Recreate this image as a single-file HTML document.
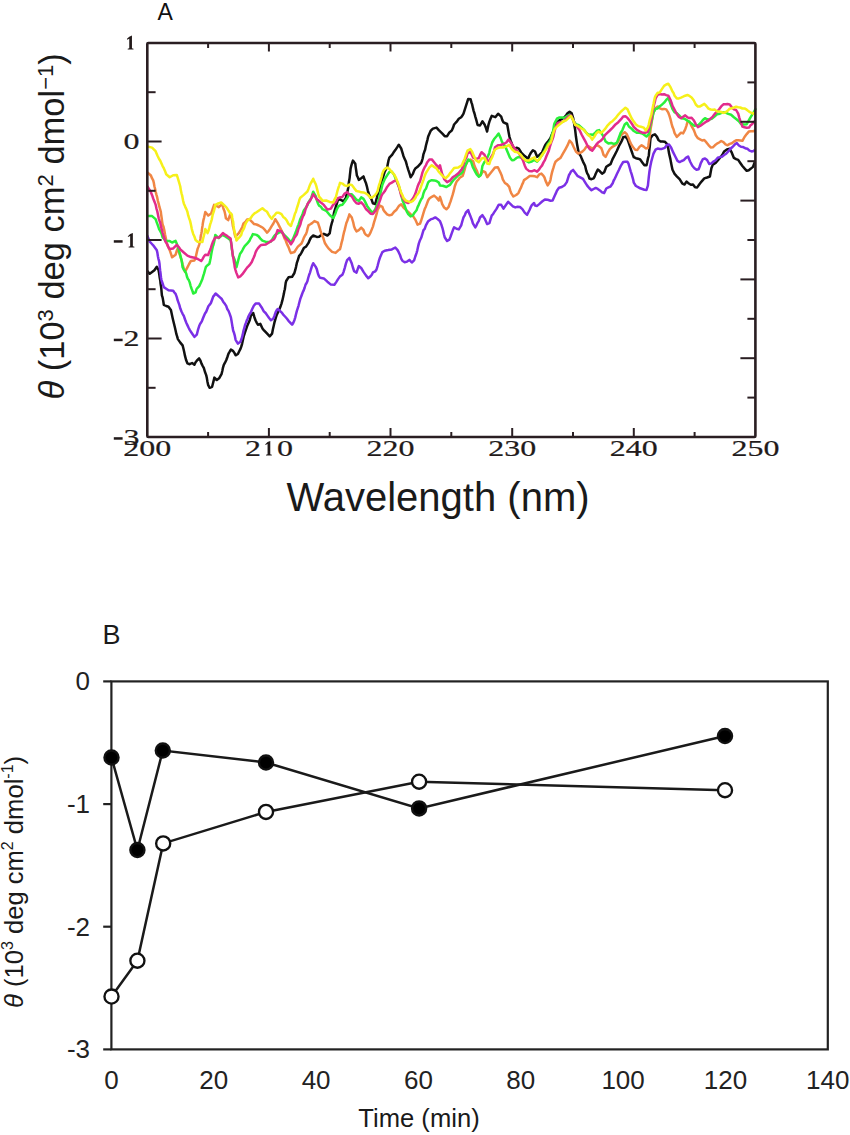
<!DOCTYPE html>
<html><head><meta charset="utf-8"><style>
html,body{margin:0;padding:0;background:#fff;width:850px;height:1135px;overflow:hidden}
svg{display:block}
</style></head><body>
<svg width="850" height="1135" viewBox="0 0 850 1135" font-family="Liberation Sans, sans-serif">
<rect width="850" height="1135" fill="#fff"/>
<path d="M147.4,271.2 L149.7,273.8 L152.1,272.0 L154.4,270.2 L156.8,266.8 L158.6,270.2 L159.2,273.9 L159.7,277.6 L160.3,280.9 L160.6,283.9 L161.0,286.2 L161.3,288.5 L161.6,292.2 L161.9,295.4 L162.4,296.8 L162.9,299.1 L163.4,302.0 L163.8,304.8 L166.2,306.0 L168.5,306.7 L170.9,310.0 L171.7,313.8 L172.5,317.5 L173.2,320.5 L174.0,323.7 L174.8,327.0 L175.6,330.5 L176.4,334.2 L177.2,336.6 L177.9,339.1 L180.3,342.6 L182.6,345.4 L183.4,348.5 L184.2,352.0 L185.0,355.9 L186.2,360.3 L187.4,363.4 L189.7,364.2 L192.1,363.0 L194.4,364.7 L195.6,362.2 L196.8,360.7 L199.1,358.4 L200.3,360.3 L201.5,363.6 L202.6,365.8 L203.8,367.8 L205.0,372.0 L206.2,375.1 L206.8,377.7 L207.4,381.4 L208.1,384.8 L209.7,387.8 L212.1,386.8 L212.8,384.0 L213.6,380.9 L214.4,377.6 L216.8,380.0 L219.1,378.3 L221.5,374.2 L222.3,371.0 L223.0,367.6 L223.8,364.8 L225.0,362.7 L226.2,360.2 L227.4,357.0 L228.5,353.7 L229.7,351.7 L230.9,349.5 L233.2,351.1 L234.4,352.9 L235.6,355.3 L237.9,354.0 L239.1,351.5 L240.3,349.2 L241.2,346.9 L242.1,343.8 L242.9,340.1 L243.8,336.0 L245.0,332.4 L246.2,328.9 L247.4,325.4 L248.5,323.0 L249.7,320.3 L250.9,315.6 L253.2,313.0 L254.4,317.2 L255.6,320.5 L256.8,322.8 L257.9,324.7 L260.3,323.9 L262.6,328.7 L263.8,330.1 L265.0,331.4 L267.4,333.9 L269.7,336.3 L272.1,333.6 L272.8,329.7 L273.6,326.3 L274.4,322.7 L275.6,318.3 L276.8,314.7 L277.9,312.4 L279.1,310.0 L280.3,307.1 L281.5,303.6 L282.3,300.7 L283.0,297.7 L283.8,294.1 L284.3,291.2 L284.8,289.5 L285.2,286.6 L285.7,282.9 L286.2,281.0 L288.5,277.3 L292.1,276.8 L294.4,273.0 L295.2,270.2 L296.0,267.1 L296.8,263.2 L297.9,259.8 L299.1,255.9 L300.3,254.6 L301.5,252.6 L303.8,248.1 L306.2,246.4 L308.5,242.9 L309.7,240.1 L310.9,237.6 L313.2,235.5 L316.8,236.9 L319.1,236.7 L321.5,234.8 L323.8,233.8 L327.4,235.5 L329.7,233.4 L330.3,229.7 L330.9,226.5 L331.7,223.5 L332.5,220.8 L333.2,217.3 L334.0,212.9 L334.8,210.1 L335.6,207.6 L336.8,203.7 L337.9,200.1 L340.0,199.4 L343.5,201.3 L345.9,198.0 L346.7,194.0 L347.5,191.3 L348.2,188.0 L348.6,184.5 L348.9,182.1 L349.2,180.5 L349.6,178.1 L349.9,175.1 L350.3,171.6 L350.6,168.6 L351.4,165.3 L352.2,162.6 L352.9,160.6 L354.1,162.1 L355.3,163.8 L355.7,167.1 L356.1,169.8 L356.5,172.7 L356.9,175.5 L357.9,177.5 L358.8,179.9 L361.2,178.2 L363.5,176.4 L364.7,180.1 L365.9,182.9 L366.8,186.1 L367.8,190.6 L368.9,194.0 L370.1,196.8 L371.5,199.4 L372.9,203.3 L375.3,204.1 L376.1,200.7 L376.9,197.6 L377.6,194.5 L378.8,191.0 L380.0,188.7 L380.8,184.9 L381.6,181.2 L382.4,179.1 L383.5,175.7 L384.7,171.6 L385.9,169.3 L387.1,167.4 L387.8,164.0 L388.6,160.1 L389.4,157.7 L391.8,155.2 L393.5,152.6 L395.3,150.1 L397.1,147.4 L398.8,144.7 L401.2,148.5 L402.4,152.3 L403.5,156.2 L404.7,158.9 L405.9,161.6 L407.1,166.0 L408.2,169.6 L409.4,173.2 L410.6,177.2 L412.9,173.9 L414.1,170.6 L415.3,168.5 L417.6,166.8 L421.2,162.9 L422.0,160.8 L422.7,158.2 L423.5,154.1 L424.3,151.8 L425.1,149.8 L425.9,145.7 L426.7,142.6 L427.5,139.6 L428.2,136.4 L429.4,133.7 L430.6,130.9 L432.9,128.6 L436.5,127.6 L438.8,130.2 L442.4,133.7 L444.7,136.2 L447.1,136.2 L448.2,134.4 L449.4,132.4 L451.8,130.6 L452.9,128.1 L454.1,124.5 L456.5,121.9 L458.8,118.7 L461.2,117.2 L462.4,115.6 L463.5,113.7 L464.7,109.9 L465.9,106.2 L467.1,102.3 L468.2,98.9 L470.6,99.2 L471.4,102.4 L472.2,104.7 L472.9,107.9 L473.7,111.1 L474.5,113.5 L475.3,116.6 L476.5,120.7 L477.6,125.0 L480.0,125.5 L482.4,121.3 L484.7,124.8 L485.9,127.8 L487.1,131.5 L487.8,128.0 L488.6,124.3 L489.4,121.6 L490.6,118.5 L491.8,115.8 L495.3,117.2 L498.1,113.7 L501.2,116.7 L502.4,120.3 L503.5,122.3 L507.1,124.0 L507.6,126.6 L508.2,130.0 L508.8,133.4 L509.4,136.5 L510.6,140.7 L511.8,143.6 L512.9,146.6 L514.1,149.3 L516.5,147.7 L518.8,148.7 L521.2,152.5 L524.7,156.1 L528.2,158.8 L529.4,155.5 L530.6,153.3 L532.9,150.2 L535.0,151.5 L536.1,154.3 L537.1,156.8 L539.2,155.2 L542.1,152.3 L543.5,149.0 L544.9,145.7 L546.3,143.5 L547.7,141.9 L549.1,140.1 L550.5,137.9 L551.5,135.4 L552.4,133.1 L553.4,131.4 L554.3,128.3 L555.2,125.3 L556.2,123.0 L559.0,120.6 L561.8,119.0 L564.6,117.1 L566.1,115.2 L567.5,113.3 L569.6,111.7 L571.7,113.3 L573.1,117.8 L573.6,120.8 L574.1,123.3 L574.5,126.2 L575.0,128.7 L575.5,132.8 L575.9,136.3 L576.4,139.8 L576.9,143.1 L577.4,146.0 L578.1,149.7 L578.8,153.1 L580.9,156.4 L581.9,159.1 L583.0,161.6 L585.1,165.8 L586.2,170.5 L587.2,173.4 L588.3,175.2 L589.4,178.5 L591.5,179.2 L593.6,178.4 L594.6,176.6 L595.7,173.8 L597.8,169.5 L599.9,171.3 L602.1,173.6 L604.2,172.2 L606.3,166.7 L608.4,165.4 L610.5,164.2 L612.7,158.8 L614.8,154.9 L616.9,150.8 L619.0,146.0 L621.1,142.2 L622.2,139.9 L623.2,137.2 L625.4,136.6 L627.5,139.3 L628.5,142.2 L629.6,145.3 L630.7,148.6 L631.7,151.5 L632.8,154.6 L633.8,157.2 L635.9,158.2 L638.1,158.7 L640.2,159.5 L642.3,162.4 L644.4,165.2 L646.5,165.3 L647.2,162.3 L647.9,158.7 L648.7,156.0 L648.9,154.6 L649.2,151.0 L649.5,148.4 L649.8,146.4 L650.1,142.4 L650.4,139.3 L650.6,138.0 L652.8,135.1 L654.9,134.3 L657.0,136.9 L658.4,139.9 L660.5,141.4 L662.6,141.4 L664.8,141.7 L666.9,143.8 L668.3,148.7 L669.0,153.1 L669.7,156.1 L670.4,159.1 L671.1,163.1 L671.8,166.5 L672.5,169.8 L674.6,173.9 L676.8,176.3 L679.6,179.2 L682.4,183.7 L684.5,184.5 L686.6,181.6 L688.8,183.5 L690.9,184.8 L693.0,184.5 L695.1,187.3 L697.2,187.4 L699.4,184.3 L701.5,181.6 L704.3,178.4 L707.1,177.5 L709.9,176.5 L710.7,172.0 L711.4,168.2 L712.8,164.6 L715.6,162.9 L718.4,159.7 L721.2,156.2 L722.7,154.2 L724.1,151.5 L726.9,149.5 L729.7,148.8 L731.8,152.7 L732.9,155.5 L733.9,157.9 L736.1,159.1 L738.2,159.9 L740.3,163.0 L742.4,166.0 L744.5,168.4 L746.7,170.8 L748.8,170.2 L750.9,168.6 L753.0,166.9 L754.8,161.8" fill="none" stroke="#111111" stroke-width="2.5" stroke-linejoin="round" stroke-linecap="round"/>
<path d="M147.4,235.9 L148.5,238.6 L149.7,241.6 L151.5,243.5 L153.2,245.3 L155.0,247.8 L156.8,250.3 L157.4,252.9 L157.9,256.2 L158.5,259.1 L159.1,261.1 L159.5,263.7 L159.8,267.3 L160.1,270.2 L160.5,272.9 L160.8,275.8 L161.1,278.0 L161.5,280.1 L162.6,283.5 L163.8,287.1 L166.2,288.7 L168.5,290.2 L173.2,290.7 L174.4,292.5 L175.6,293.9 L176.8,297.1 L177.6,300.2 L178.5,302.7 L179.4,305.1 L180.3,308.6 L181.5,311.5 L182.6,313.8 L183.8,315.9 L184.7,318.5 L185.6,321.1 L186.5,323.2 L187.4,325.1 L188.5,327.5 L189.7,329.9 L190.9,331.7 L192.6,334.2 L194.4,336.9 L196.8,334.6 L197.9,330.2 L199.1,326.3 L200.0,324.1 L200.9,322.7 L201.8,321.4 L202.6,319.3 L203.8,316.3 L205.0,313.5 L206.2,311.7 L207.4,308.7 L208.5,306.0 L209.7,304.7 L210.9,303.0 L212.1,299.7 L213.2,296.6 L214.4,295.1 L215.6,293.5 L217.9,295.5 L219.7,297.1 L221.5,298.7 L223.2,301.7 L225.0,304.1 L226.2,305.9 L227.4,309.3 L228.5,310.9 L229.7,313.9 L230.9,317.4 L231.5,320.7 L232.1,324.4 L232.6,327.6 L233.2,330.7 L234.0,332.8 L234.8,335.7 L235.6,339.8 L236.8,341.8 L237.9,343.6 L240.3,341.9 L241.5,339.1 L242.6,335.2 L243.4,331.2 L244.2,328.3 L245.0,325.2 L245.9,322.9 L246.8,320.4 L247.6,318.7 L248.5,316.3 L249.7,314.0 L250.9,312.3 L252.1,309.2 L253.8,305.7 L255.6,303.6 L259.1,303.6 L261.5,307.2 L262.6,309.2 L263.8,311.3 L265.6,313.0 L267.4,315.6 L269.1,318.0 L270.9,320.2 L273.2,318.7 L274.4,316.0 L275.6,312.4 L276.8,310.0 L277.9,309.0 L281.5,312.3 L283.2,314.6 L285.0,316.5 L286.8,318.5 L288.5,320.8 L292.1,324.7 L293.2,323.0 L294.4,320.2 L295.2,317.6 L296.0,314.2 L296.8,311.1 L297.6,308.7 L298.5,305.8 L299.4,302.3 L300.3,298.9 L301.2,296.5 L302.1,294.0 L302.9,291.9 L303.8,290.1 L304.7,287.5 L305.6,284.5 L306.5,283.2 L307.4,281.3 L308.2,278.0 L309.1,275.0 L310.0,272.6 L310.9,269.5 L312.1,265.7 L313.2,263.2 L315.6,266.6 L316.8,269.1 L317.9,273.5 L319.1,276.5 L320.3,277.8 L323.8,278.4 L327.4,281.7 L330.9,284.6 L334.4,284.8 L336.2,282.1 L337.9,279.4 L340.0,276.4 L342.4,274.8 L343.5,272.1 L344.7,268.1 L345.9,263.6 L347.1,260.1 L349.4,257.9 L350.6,260.7 L351.8,263.6 L352.9,267.5 L354.1,271.2 L356.5,272.6 L357.6,269.4 L358.8,266.1 L361.2,268.0 L363.5,271.9 L365.9,275.4 L368.2,278.3 L370.6,276.2 L371.8,274.8 L372.9,272.4 L375.3,271.3 L376.5,269.5 L377.6,265.8 L378.8,261.2 L380.0,257.5 L381.2,254.7 L382.4,252.1 L384.7,250.7 L388.2,250.1 L391.8,249.4 L395.3,247.5 L397.6,250.1 L398.8,252.4 L400.0,255.0 L401.2,258.6 L402.4,260.7 L404.7,262.2 L407.1,261.6 L409.4,259.9 L411.8,262.5 L414.1,260.4 L415.3,256.5 L416.5,253.1 L417.3,250.3 L418.0,247.0 L418.8,243.6 L420.0,240.2 L421.2,237.8 L422.4,233.8 L423.5,230.2 L424.7,228.9 L425.9,225.3 L428.2,221.2 L430.6,219.4 L432.9,218.6 L435.3,217.4 L437.6,219.0 L440.0,221.2 L441.2,224.2 L442.4,227.8 L443.1,230.5 L443.9,234.3 L444.7,237.3 L447.1,241.0 L449.4,239.6 L450.6,236.5 L451.8,233.1 L452.9,230.1 L454.1,227.3 L456.5,228.8 L458.8,229.4 L461.2,225.3 L462.4,221.0 L463.5,217.4 L464.7,215.3 L465.9,212.5 L468.2,210.2 L469.4,213.8 L470.6,216.6 L471.8,219.7 L472.9,223.4 L475.3,227.4 L476.5,225.3 L477.6,222.8 L478.8,220.8 L480.0,217.5 L482.4,215.2 L484.7,218.6 L485.9,221.3 L487.1,224.1 L489.4,223.2 L490.6,219.2 L491.8,215.4 L492.9,214.3 L494.1,212.4 L496.5,208.9 L498.8,204.7 L501.2,204.8 L503.5,208.6 L505.9,205.0 L508.2,201.8 L510.6,204.1 L512.9,206.3 L515.3,207.4 L517.6,206.8 L520.0,207.0 L522.4,209.1 L524.7,212.6 L527.1,214.8 L529.4,210.2 L530.6,207.4 L531.8,205.2 L534.1,203.0 L535.0,205.6 L537.1,205.9 L539.2,204.1 L542.1,201.5 L544.9,199.4 L547.7,199.8 L550.5,200.7 L552.6,200.6 L553.7,198.1 L554.8,195.5 L555.8,193.4 L556.9,190.8 L559.0,187.8 L561.8,187.0 L564.6,185.2 L566.8,182.1 L567.8,178.8 L568.9,175.3 L569.9,173.8 L571.0,171.4 L573.1,169.9 L575.2,172.8 L577.4,175.8 L580.2,177.3 L583.0,178.9 L585.1,182.3 L587.2,185.6 L589.4,188.3 L591.5,190.2 L593.6,189.0 L595.7,187.9 L597.8,188.9 L599.9,190.4 L602.1,192.4 L604.2,193.1 L606.3,188.5 L608.4,187.4 L610.5,186.5 L612.7,183.2 L613.7,180.5 L614.8,178.6 L615.8,176.4 L616.9,174.0 L619.0,169.8 L621.1,165.3 L623.2,162.0 L625.4,161.7 L627.5,161.8 L628.5,163.6 L629.6,167.5 L630.7,171.3 L631.7,174.3 L632.4,176.8 L633.1,179.3 L633.8,182.7 L635.9,186.0 L638.1,187.1 L640.2,188.3 L642.3,189.0 L644.4,189.7 L646.5,189.9 L647.9,185.6 L648.2,182.7 L648.5,179.8 L648.8,176.9 L649.1,174.3 L649.4,171.8 L649.9,168.6 L650.4,165.7 L650.9,163.5 L651.4,161.1 L652.4,157.5 L653.5,153.7 L655.6,149.7 L657.7,148.5 L659.8,148.9 L661.9,148.9 L664.8,147.8 L666.9,145.0 L669.0,144.6 L671.1,147.4 L673.2,152.4 L675.4,156.8 L677.5,160.9 L679.6,162.1 L681.7,161.0 L683.8,160.1 L685.9,157.9 L688.1,156.5 L690.2,161.7 L692.3,165.8 L694.4,168.2 L696.5,169.7 L698.6,169.2 L699.7,166.5 L700.8,163.1 L702.9,159.1 L705.0,158.4 L707.1,160.0 L709.2,164.0 L711.4,163.4 L713.5,161.5 L715.6,160.2 L717.7,157.8 L719.8,157.1 L721.9,156.8 L724.1,155.0 L726.2,153.7 L728.3,151.5 L730.4,148.8 L732.5,147.0 L734.7,144.6 L736.8,143.1 L738.9,145.5 L741.0,146.8 L743.1,147.1 L745.2,148.2 L747.4,148.8 L749.5,150.6 L751.6,151.4 L753.7,151.0 L754.8,149.8" fill="none" stroke="#7b30e6" stroke-width="2.5" stroke-linejoin="round" stroke-linecap="round"/>
<path d="M147.4,172.4 L150.9,175.5 L152.1,178.4 L153.2,180.4 L153.8,182.8 L154.4,186.2 L155.0,188.5 L155.6,191.5 L156.4,194.6 L157.2,197.4 L157.9,201.0 L158.7,203.9 L159.5,207.2 L160.3,209.8 L160.8,211.7 L161.2,214.8 L161.7,218.3 L162.2,222.1 L162.6,224.5 L163.4,226.4 L164.2,229.8 L165.0,234.3 L165.6,237.2 L166.2,240.0 L166.8,243.1 L167.4,245.4 L168.5,247.3 L169.7,250.2 L170.9,253.6 L172.1,257.3 L175.6,254.7 L176.8,250.7 L177.9,248.0 L178.7,251.2 L179.5,253.8 L180.3,256.2 L181.1,258.7 L181.9,261.4 L182.6,264.5 L183.8,268.6 L185.0,271.8 L186.2,269.6 L187.4,267.3 L189.1,264.0 L190.9,260.9 L194.4,260.4 L195.2,259.0 L196.0,255.9 L196.8,252.4 L197.6,248.9 L198.4,246.9 L199.2,244.6 L200.0,241.4 L200.4,238.9 L200.8,235.9 L201.3,233.8 L201.7,231.5 L202.1,228.3 L202.5,225.9 L202.9,222.9 L203.5,219.8 L204.1,217.6 L204.7,214.8 L205.3,211.9 L208.2,215.6 L211.2,213.4 L212.2,210.5 L213.1,207.6 L214.1,204.9 L216.5,206.0 L218.8,207.2 L222.4,203.8 L223.1,207.3 L223.8,209.6 L224.5,211.3 L225.2,214.2 L225.9,218.2 L228.2,220.1 L229.4,216.6 L230.6,213.4 L231.2,216.3 L231.8,218.9 L232.4,222.4 L232.9,226.1 L233.5,228.2 L234.1,231.0 L234.7,234.3 L235.3,236.8 L238.8,233.2 L240.0,231.1 L241.2,229.2 L242.4,226.7 L243.5,223.5 L245.3,222.1 L247.1,219.4 L249.4,219.3 L251.8,221.6 L254.1,224.1 L256.5,224.5 L258.8,225.5 L261.2,226.8 L263.1,228.0 L265.1,230.2 L267.1,232.6 L268.6,231.0 L270.2,228.6 L271.8,225.9 L272.9,224.3 L274.1,222.0 L275.3,219.2 L277.6,222.8 L279.0,225.6 L280.3,228.1 L281.5,230.5 L282.6,233.2 L283.8,236.6 L284.7,238.8 L285.6,240.1 L286.5,242.8 L287.4,244.9 L288.5,247.1 L289.7,250.4 L290.9,253.1 L294.4,252.0 L296.2,249.1 L297.9,246.6 L301.5,243.5 L302.6,241.0 L303.8,237.9 L305.0,235.5 L305.9,234.2 L306.8,231.9 L307.6,228.4 L308.5,225.4 L310.3,224.3 L312.1,223.1 L314.4,221.1 L317.9,222.7 L318.8,225.3 L319.7,228.0 L320.6,231.2 L321.5,233.8 L322.4,235.7 L323.2,237.7 L324.1,240.6 L325.0,243.3 L326.8,246.0 L328.5,248.4 L332.1,251.9 L335.6,252.9 L339.1,249.7 L340.0,249.1 L340.8,246.1 L341.6,242.6 L342.4,239.9 L343.1,236.3 L343.9,232.7 L344.7,229.9 L345.5,226.5 L346.3,223.3 L347.1,221.3 L348.2,218.3 L349.4,214.4 L351.8,217.6 L352.5,220.0 L353.3,222.7 L354.1,226.5 L355.3,229.4 L356.5,231.4 L358.8,230.1 L361.2,227.7 L363.5,230.0 L364.7,233.2 L365.9,234.7 L368.2,236.1 L369.4,234.7 L370.6,232.4 L371.8,229.4 L372.9,226.6 L374.1,222.2 L375.3,218.3 L376.1,215.6 L376.9,212.8 L377.6,210.0 L380.0,205.6 L382.4,206.8 L383.5,210.0 L384.7,211.7 L387.1,214.3 L389.4,215.3 L391.8,214.8 L394.1,211.8 L396.5,209.7 L398.8,206.1 L401.2,204.2 L403.5,207.6 L405.9,209.8 L408.2,212.0 L410.6,214.2 L412.9,215.8 L415.3,219.6 L416.5,222.2 L417.6,224.7 L420.0,223.7 L421.2,220.5 L422.4,216.6 L423.5,212.8 L424.7,209.1 L425.9,206.4 L427.1,203.3 L428.2,200.3 L429.4,198.5 L431.8,196.8 L434.1,195.6 L436.5,197.6 L438.8,200.5 L440.0,196.9 L441.1,200.2 L442.1,203.8 L444.2,207.6 L446.4,209.3 L448.5,207.2 L449.5,204.3 L450.6,201.4 L451.6,198.1 L452.7,194.7 L453.8,190.7 L454.8,186.3 L455.9,183.3 L456.9,181.1 L458.4,179.6 L459.8,177.7 L462.6,176.0 L463.6,173.2 L464.7,169.5 L465.6,165.4 L466.6,163.1 L467.5,161.3 L470.4,159.5 L473.2,161.4 L474.1,164.4 L475.1,167.3 L476.0,169.0 L477.1,171.3 L478.1,174.4 L480.2,175.7 L481.6,173.3 L483.1,171.2 L485.2,172.1 L487.3,177.2 L489.4,174.5 L492.2,171.0 L495.1,167.4 L497.9,167.3 L499.3,170.2 L500.7,173.1 L501.8,175.8 L502.8,179.3 L504.9,183.0 L507.1,184.4 L509.2,186.9 L510.2,190.4 L511.3,193.4 L513.4,196.5 L516.2,195.0 L518.4,193.1 L519.8,189.9 L521.2,187.2 L522.1,184.6 L523.1,182.7 L524.0,180.1 L526.8,178.2 L529.7,176.1 L532.5,175.9 L535.0,176.3 L537.1,177.2 L539.2,174.4 L541.4,173.6 L543.5,175.9 L544.5,177.5 L545.6,180.9 L547.7,185.4 L549.8,182.0 L550.5,179.8 L551.2,176.0 L551.9,172.9 L552.6,170.4 L553.4,167.9 L554.4,164.5 L555.5,161.8 L557.6,159.9 L560.4,158.0 L561.8,155.7 L563.2,153.2 L565.4,149.3 L567.5,145.4 L569.6,140.6 L571.7,142.8 L573.8,147.3 L575.9,151.5 L578.1,153.5 L580.2,152.8 L582.3,151.6 L584.4,149.6 L586.5,146.5 L588.6,146.2 L590.8,147.6 L592.9,148.5 L595.0,146.6 L597.1,145.1 L599.2,146.4 L601.4,148.3 L602.4,151.1 L603.5,154.8 L605.6,156.9 L607.7,152.7 L609.8,149.1 L611.9,147.2 L614.1,145.9 L616.2,144.4 L618.3,141.5 L619.4,138.5 L620.4,135.9 L622.5,133.8 L624.7,132.2 L626.8,134.2 L628.9,138.8 L629.9,141.6 L631.0,143.8 L633.1,147.3 L635.2,149.7 L637.4,149.9 L639.5,146.9 L641.6,145.2 L643.7,146.6 L645.8,148.4 L647.9,148.1 L648.3,145.9 L648.7,142.8 L649.1,140.1 L649.5,137.1 L649.8,134.8 L650.2,132.5 L650.6,129.0 L651.0,126.6 L651.4,124.7 L651.9,121.0 L652.4,117.7 L652.9,114.9 L653.5,112.5 L655.6,108.3 L657.7,106.5 L659.8,108.3 L661.9,109.2 L664.1,108.9 L666.2,109.4 L668.3,112.7 L669.4,115.6 L670.4,118.9 L671.5,123.4 L672.5,127.1 L673.6,129.6 L674.6,133.2 L676.8,136.9 L678.9,134.8 L681.0,132.7 L683.1,133.4 L685.2,129.4 L686.3,126.1 L687.4,122.3 L689.5,121.6 L691.6,126.1 L693.7,129.8 L694.8,132.6 L695.8,135.3 L697.9,138.2 L700.1,139.3 L702.2,140.5 L704.3,140.0 L706.4,142.4 L708.5,145.1 L710.7,147.4 L712.8,147.3 L714.9,145.3 L717.0,143.6 L719.1,142.5 L721.2,141.0 L723.4,142.1 L725.5,144.4 L727.6,145.3 L729.7,143.9 L731.8,143.3 L733.9,141.6 L736.1,140.3 L738.2,140.2 L740.3,140.4 L742.4,140.8 L744.5,137.0 L746.7,134.1 L748.8,131.6 L750.9,131.3 L753.0,131.3 L754.8,130.7" fill="none" stroke="#f08644" stroke-width="2.5" stroke-linejoin="round" stroke-linecap="round"/>
<path d="M147.4,215.9 L152.1,216.1 L155.6,219.1 L156.5,221.7 L157.4,224.1 L158.2,226.4 L159.1,229.1 L160.3,231.1 L161.5,233.5 L162.6,237.3 L166.2,241.1 L169.7,241.1 L172.1,242.5 L175.6,240.9 L176.8,243.8 L177.9,247.0 L179.1,251.1 L180.3,255.2 L180.9,257.9 L181.5,259.9 L182.1,263.4 L182.6,267.3 L183.8,269.7 L185.0,271.1 L186.2,273.5 L187.1,277.1 L187.9,278.9 L188.8,280.1 L189.7,282.4 L190.6,285.8 L191.5,288.5 L192.4,290.9 L193.2,293.5 L195.6,292.4 L196.6,289.0 L197.6,287.9 L199.2,286.1 L200.8,282.7 L202.4,279.0 L203.2,276.1 L204.1,273.4 L205.0,270.0 L205.9,266.9 L207.6,265.2 L209.4,263.7 L210.0,261.1 L210.6,258.2 L211.2,254.5 L211.8,251.2 L212.4,248.4 L212.9,246.3 L213.5,244.8 L214.1,242.3 L214.7,238.7 L215.3,235.0 L218.8,238.1 L222.4,234.9 L224.7,236.0 L227.1,237.6 L230.6,240.2 L231.0,242.2 L231.4,245.1 L231.8,249.0 L232.2,250.9 L232.5,253.3 L232.9,256.1 L233.8,257.7 L234.7,259.9 L235.6,263.9 L236.5,267.3 L237.4,263.7 L238.2,260.4 L239.1,257.1 L240.0,254.0 L241.2,252.3 L242.4,250.3 L243.5,248.1 L244.7,246.1 L247.1,243.7 L249.4,240.9 L250.6,238.3 L251.8,236.4 L252.9,234.1 L256.5,234.9 L258.4,236.1 L260.4,238.6 L262.4,240.6 L265.9,241.9 L270.6,241.8 L272.2,239.4 L273.7,236.8 L275.3,234.8 L278.4,232.9 L281.5,231.5 L283.2,233.8 L285.0,235.7 L288.5,239.2 L290.9,242.3 L292.1,240.3 L293.2,238.5 L294.1,236.2 L295.0,234.0 L295.9,231.8 L296.8,229.2 L297.6,226.8 L298.5,224.6 L299.4,221.8 L300.3,219.0 L301.5,216.7 L302.6,214.0 L303.8,210.4 L305.6,207.9 L307.4,205.2 L308.5,202.3 L309.7,200.4 L310.9,198.9 L312.1,195.1 L313.2,191.7 L314.4,193.8 L315.6,195.8 L316.5,199.0 L317.4,201.8 L318.2,204.0 L319.1,205.6 L320.9,206.8 L322.6,209.2 L326.2,210.8 L329.7,215.0 L333.2,218.2 L334.4,215.8 L335.6,212.9 L336.8,209.4 L338.4,206.5 L340.0,205.3 L342.4,204.7 L344.7,201.8 L347.1,198.1 L349.4,194.2 L351.8,194.2 L354.1,196.9 L356.5,199.7 L358.8,201.0 L361.2,197.4 L363.5,198.9 L364.7,200.9 L365.9,203.4 L367.1,205.9 L368.2,207.4 L370.6,210.7 L372.9,212.9 L375.3,209.2 L376.5,206.0 L377.6,203.1 L378.4,200.7 L379.2,198.5 L380.0,194.8 L380.8,191.7 L381.6,188.3 L382.4,184.7 L383.5,182.0 L384.7,179.2 L387.1,175.4 L389.4,172.0 L391.8,171.6 L394.1,174.9 L395.3,177.9 L396.5,181.0 L397.6,183.5 L398.8,186.0 L399.6,189.0 L400.4,191.3 L401.2,194.1 L402.0,198.2 L402.7,200.9 L403.5,202.7 L404.7,205.8 L405.9,209.1 L407.1,212.2 L408.2,214.0 L410.6,216.4 L412.9,215.3 L414.1,213.2 L415.3,211.7 L416.5,210.3 L417.6,207.1 L418.8,204.6 L420.0,201.8 L421.2,199.3 L422.4,197.6 L423.5,193.2 L424.7,190.2 L425.9,188.8 L427.1,185.4 L428.2,182.4 L429.4,181.2 L431.8,180.2 L434.1,180.4 L436.5,181.0 L438.8,182.6 L440.0,185.5 L442.8,185.7 L446.4,187.0 L449.9,184.9 L452.0,182.0 L454.1,179.3 L456.2,177.3 L458.4,175.2 L460.5,174.1 L462.6,171.9 L463.5,168.7 L464.5,166.8 L465.4,165.4 L466.8,162.7 L468.2,159.5 L471.1,161.7 L472.0,164.7 L472.9,167.4 L473.9,169.1 L475.3,171.8 L476.7,174.4 L478.8,176.8 L480.9,174.8 L481.4,172.1 L481.9,169.2 L482.4,166.0 L484.5,161.9 L486.6,159.2 L487.6,157.0 L488.7,154.6 L489.4,152.3 L490.1,149.1 L491.2,145.9 L492.2,142.5 L494.4,138.7 L496.5,136.3 L498.6,133.6 L500.7,138.1 L501.8,141.4 L502.8,143.2 L504.2,145.1 L505.7,147.4 L507.8,152.5 L509.9,157.6 L512.0,160.3 L514.1,159.9 L516.2,158.2 L518.4,157.0 L520.5,157.3 L523.3,158.5 L526.1,161.0 L528.9,162.4 L531.8,161.5 L534.6,159.7 L535.0,160.5 L537.1,161.6 L539.2,159.2 L540.6,156.7 L542.1,155.1 L543.5,152.7 L544.9,150.0 L546.3,147.2 L547.7,144.2 L549.1,142.4 L550.5,140.2 L551.6,136.2 L552.6,132.8 L553.2,130.7 L553.7,127.2 L554.2,124.3 L554.8,122.8 L556.9,118.7 L559.0,117.6 L561.8,117.5 L564.6,117.7 L567.5,115.9 L569.6,114.9 L571.7,117.1 L573.8,121.2 L575.9,124.3 L578.8,125.2 L581.6,127.6 L584.4,130.2 L586.5,132.9 L588.6,135.0 L590.8,134.4 L592.9,135.0 L595.0,133.0 L597.1,130.7 L599.2,130.1 L601.4,133.2 L603.5,136.6 L605.6,141.5 L608.4,143.4 L611.2,142.9 L614.1,144.1 L616.9,142.7 L618.3,139.1 L619.7,135.5 L620.7,132.8 L621.6,131.5 L622.5,129.8 L624.7,124.5 L626.8,122.7 L628.9,126.5 L631.0,128.2 L633.8,131.0 L636.7,132.8 L639.5,132.7 L642.3,133.5 L644.4,134.9 L646.5,136.5 L648.7,134.3 L649.2,131.5 L649.7,128.5 L650.3,125.3 L650.8,123.6 L651.4,121.8 L652.1,118.9 L652.8,115.7 L653.5,112.4 L655.6,108.8 L657.7,108.5 L659.8,106.2 L661.9,104.7 L664.1,102.7 L666.2,99.9 L668.3,98.0 L669.4,100.7 L670.4,103.5 L671.5,106.4 L672.5,109.0 L674.6,112.3 L676.8,113.1 L678.9,115.1 L681.7,118.2 L684.5,118.7 L687.4,120.6 L690.2,122.6 L692.3,124.3 L694.4,125.8 L696.5,125.2 L698.6,124.9 L700.8,122.7 L702.9,120.0 L705.0,118.2 L707.1,119.3 L709.2,119.6 L711.4,118.9 L714.2,116.7 L717.0,114.3 L719.8,113.7 L722.7,112.3 L725.5,112.6 L728.3,113.9 L731.1,114.7 L733.9,117.2 L736.8,119.5 L738.9,121.3 L741.0,124.0 L743.8,124.5 L746.7,124.2 L748.4,121.2 L750.2,117.8 L751.9,115.1 L753.7,112.6 L755.4,109.1" fill="none" stroke="#2af03a" stroke-width="2.5" stroke-linejoin="round" stroke-linecap="round"/>
<path d="M147.4,186.5 L149.1,189.2 L150.9,192.2 L152.1,195.2 L153.2,198.5 L154.4,201.5 L155.6,204.6 L156.4,208.3 L157.2,211.0 L157.9,214.3 L158.7,218.3 L159.5,220.7 L160.3,222.9 L161.1,226.9 L161.9,230.1 L162.6,233.0 L163.5,235.9 L164.4,238.5 L165.3,241.3 L166.2,242.7 L167.4,244.7 L168.5,247.4 L169.7,249.0 L173.2,248.4 L176.8,244.9 L178.5,246.8 L180.3,249.3 L183.8,252.5 L187.4,255.6 L190.9,257.1 L194.4,257.8 L197.8,259.0 L201.2,261.0 L202.5,259.1 L203.9,256.5 L205.3,254.8 L208.2,255.1 L209.1,252.2 L210.0,250.3 L210.9,247.9 L211.8,244.9 L212.9,241.9 L214.1,239.6 L215.3,237.4 L218.8,237.6 L220.9,235.3 L222.9,233.1 L225.0,234.7 L227.1,235.9 L230.6,238.4 L230.9,240.9 L231.3,243.3 L231.6,245.5 L231.9,248.2 L232.3,251.2 L232.6,254.1 L232.9,256.1 L233.4,258.5 L233.9,261.7 L234.4,264.6 L234.8,267.5 L235.3,269.4 L236.3,272.6 L237.3,275.1 L238.2,277.4 L240.3,276.3 L242.4,274.2 L244.7,271.0 L247.1,267.6 L248.6,266.1 L250.2,264.3 L251.8,262.0 L252.7,259.7 L253.6,257.8 L254.6,255.5 L255.5,252.5 L256.5,250.4 L258.0,248.1 L259.6,246.3 L261.2,244.9 L265.9,244.4 L268.2,243.0 L270.6,241.4 L274.1,239.1 L275.3,236.9 L276.5,233.4 L277.6,230.1 L281.5,231.5 L283.2,234.0 L285.0,237.4 L288.5,241.0 L289.7,242.2 L290.9,244.3 L293.2,240.9 L294.4,237.9 L295.6,236.2 L296.8,234.6 L297.6,231.9 L298.5,228.7 L299.4,226.8 L300.3,224.6 L301.2,221.0 L302.1,218.6 L302.9,216.3 L303.8,215.0 L304.7,212.5 L305.6,209.0 L306.5,206.9 L307.4,204.3 L308.5,202.7 L309.7,201.4 L310.9,199.0 L312.1,196.8 L313.2,194.2 L315.0,196.6 L316.8,199.3 L318.5,200.4 L320.3,202.0 L323.8,204.9 L327.4,209.6 L330.9,208.6 L332.6,205.6 L334.4,203.6 L336.2,201.8 L337.9,198.2 L340.0,197.3 L342.4,196.9 L344.7,193.5 L347.1,192.2 L349.4,194.6 L351.8,196.5 L354.1,200.5 L356.5,203.3 L358.8,203.7 L361.2,202.3 L363.5,204.8 L365.9,209.0 L368.2,211.2 L370.6,213.7 L372.9,214.0 L375.3,210.9 L376.5,208.8 L377.6,206.3 L378.8,203.7 L380.0,200.3 L381.2,196.6 L382.4,194.0 L383.5,192.8 L384.7,191.3 L387.1,186.9 L389.4,183.9 L391.8,182.6 L394.1,181.1 L396.5,180.1 L397.6,183.6 L398.8,186.7 L399.6,189.3 L400.4,192.4 L401.2,195.7 L402.4,197.4 L403.5,199.2 L405.9,202.1 L408.2,203.1 L410.6,201.3 L412.9,198.5 L414.1,196.4 L415.3,193.8 L416.5,190.1 L417.6,186.5 L418.8,183.6 L420.0,181.3 L421.2,177.2 L422.4,172.6 L423.5,169.8 L424.7,167.2 L425.9,165.3 L427.1,162.5 L429.4,159.5 L431.8,159.4 L434.1,162.3 L436.5,165.2 L437.6,166.4 L438.8,168.4 L440.0,165.3 L440.7,168.2 L441.4,171.0 L442.1,173.8 L443.2,176.2 L444.2,179.2 L447.1,182.2 L449.9,180.7 L452.7,177.3 L455.5,175.5 L458.4,173.3 L461.9,169.1 L462.8,166.6 L463.8,163.4 L464.7,160.2 L465.6,158.9 L466.6,157.0 L467.5,153.4 L470.4,151.9 L471.8,154.8 L473.2,157.7 L476.0,158.9 L478.8,158.1 L480.2,154.7 L481.6,152.2 L484.5,154.7 L485.4,156.7 L486.4,158.4 L487.3,160.9 L489.4,160.5 L490.8,157.9 L492.2,155.4 L493.2,153.5 L494.1,150.8 L495.1,147.2 L497.9,145.2 L500.7,145.0 L503.5,144.0 L506.4,142.5 L508.5,139.6 L510.6,142.3 L512.7,145.5 L514.8,148.8 L516.9,150.7 L519.1,153.6 L521.2,156.9 L522.2,158.8 L523.3,161.3 L524.7,165.4 L526.1,168.6 L528.9,170.9 L531.8,171.3 L534.6,170.2 L535.0,170.5 L537.1,171.7 L539.2,169.4 L540.6,167.2 L542.1,165.4 L543.5,162.4 L544.9,160.1 L546.3,156.5 L547.7,153.3 L548.8,150.8 L549.8,146.9 L551.2,142.6 L552.3,139.7 L553.4,136.6 L554.1,133.1 L554.8,130.5 L555.5,127.8 L557.6,123.0 L560.4,122.3 L563.2,121.6 L566.1,118.8 L568.9,116.1 L571.0,115.5 L573.1,120.0 L575.2,124.3 L577.4,127.2 L579.5,129.9 L581.6,134.5 L583.7,138.4 L585.8,142.2 L587.9,146.5 L590.1,149.5 L592.2,150.7 L594.3,147.9 L596.4,144.3 L598.5,142.2 L600.7,140.8 L602.8,138.7 L604.9,135.1 L607.0,133.1 L609.8,130.5 L612.7,127.6 L615.5,124.4 L618.3,122.2 L621.1,119.2 L623.2,116.5 L625.4,116.2 L627.5,117.9 L629.6,120.6 L631.7,123.4 L633.8,127.0 L636.7,129.7 L639.5,131.4 L642.3,132.7 L645.1,132.8 L647.9,131.9 L648.6,129.6 L649.3,126.6 L650.0,124.0 L650.7,122.0 L651.4,119.3 L651.9,115.7 L652.4,112.5 L652.9,110.2 L653.5,106.9 L654.2,104.2 L654.9,101.7 L655.6,98.3 L657.7,94.7 L659.8,94.1 L661.9,94.5 L664.1,94.2 L666.2,95.1 L668.3,95.7 L669.4,97.7 L670.4,99.8 L671.5,102.6 L672.5,105.8 L674.6,109.8 L676.8,114.1 L678.9,117.0 L681.0,118.3 L683.1,116.8 L685.2,115.4 L687.4,117.3 L689.5,118.1 L691.6,117.7 L693.7,120.2 L695.8,124.1 L697.9,127.1 L700.1,126.0 L702.2,124.4 L704.3,123.0 L706.4,121.5 L708.5,120.5 L710.7,118.4 L712.8,116.6 L714.9,113.7 L717.0,111.7 L719.1,109.3 L721.2,106.4 L723.4,104.3 L725.5,104.2 L727.6,104.1 L729.7,104.4 L731.8,107.3 L733.9,109.4 L736.1,110.0 L738.2,113.7 L739.2,117.3 L740.3,120.9 L741.4,123.5 L742.4,126.5 L744.5,127.3 L746.7,127.8 L749.2,127.4 L750.6,125.2 L752.0,124.2 L754.8,121.1" fill="none" stroke="#e22c8c" stroke-width="2.5" stroke-linejoin="round" stroke-linecap="round"/>
<path d="M147.4,146.5 L152.1,147.6 L153.8,149.3 L155.6,151.2 L157.4,155.5 L159.1,159.0 L160.3,160.8 L161.5,163.6 L162.6,166.1 L163.8,168.2 L165.0,170.9 L166.2,174.2 L169.7,177.3 L173.2,175.2 L176.8,174.9 L177.9,178.3 L179.1,182.4 L179.7,184.5 L180.3,186.7 L180.9,190.6 L181.5,193.3 L182.1,195.3 L182.6,198.0 L183.2,201.0 L183.8,203.4 L184.7,205.4 L185.6,207.7 L186.5,209.4 L187.4,211.7 L188.2,215.4 L189.1,218.2 L190.0,220.6 L190.9,224.4 L191.7,228.6 L192.5,231.7 L193.2,233.9 L194.4,236.5 L195.6,240.1 L197.6,241.7 L202.4,241.9 L203.1,238.6 L203.8,236.0 L204.6,232.8 L205.3,229.1 L207.6,233.1 L208.5,230.9 L209.3,227.9 L210.1,224.6 L210.9,222.3 L211.8,219.3 L212.5,215.5 L213.2,213.1 L213.9,211.3 L214.6,208.3 L215.3,204.9 L218.2,203.5 L221.2,202.5 L224.7,205.6 L226.5,207.5 L228.2,210.1 L230.0,213.0 L231.8,214.5 L232.2,217.5 L232.7,220.0 L233.2,222.1 L233.6,226.0 L234.1,229.8 L234.7,232.4 L235.3,234.2 L235.9,237.2 L236.5,240.6 L238.0,238.5 L239.6,237.1 L241.2,235.0 L242.1,231.7 L243.1,230.0 L244.0,228.3 L244.9,225.5 L245.9,223.1 L247.5,220.6 L249.0,219.4 L250.6,218.2 L252.5,215.4 L254.5,213.4 L256.5,212.2 L259.4,210.2 L262.4,208.3 L264.7,210.3 L267.1,211.8 L268.6,214.6 L270.2,217.0 L271.8,218.8 L273.3,216.4 L274.9,214.8 L276.5,212.8 L279.0,212.8 L281.5,214.2 L283.2,216.9 L285.0,218.2 L286.8,220.6 L288.5,223.8 L290.9,226.0 L292.1,222.3 L293.2,219.8 L294.1,216.6 L295.0,213.5 L295.9,211.8 L296.8,208.4 L297.6,206.0 L298.5,203.2 L299.4,199.8 L300.3,197.8 L303.8,194.9 L307.4,191.5 L308.5,188.9 L309.7,185.6 L310.9,183.0 L312.1,181.0 L313.2,178.7 L314.4,181.7 L315.6,183.8 L316.5,186.7 L317.4,190.4 L318.2,193.5 L319.1,196.6 L320.9,198.6 L322.6,200.7 L326.2,200.5 L329.7,201.9 L333.2,202.5 L334.1,200.4 L335.0,198.7 L335.9,197.0 L336.8,193.5 L337.6,190.3 L338.4,187.8 L339.2,185.6 L340.0,182.9 L342.4,183.6 L344.7,185.4 L347.1,186.1 L349.4,184.6 L351.8,185.0 L354.1,188.1 L356.5,191.1 L358.8,191.4 L361.2,192.3 L363.5,192.4 L365.9,193.4 L368.2,195.1 L370.6,197.9 L372.9,197.0 L375.3,194.8 L376.5,193.1 L377.6,191.1 L378.4,187.6 L379.2,184.7 L380.0,182.4 L380.8,179.5 L381.6,176.8 L382.4,173.4 L383.5,170.8 L384.7,169.1 L387.1,167.5 L389.4,168.9 L391.8,172.0 L394.1,174.3 L395.3,176.5 L396.5,179.1 L397.6,182.1 L398.8,185.0 L400.0,189.2 L401.2,192.8 L402.4,195.0 L403.5,197.9 L405.9,200.6 L408.2,201.4 L410.6,202.1 L412.9,200.8 L415.3,198.1 L416.5,195.5 L417.6,194.3 L418.8,192.6 L420.0,189.7 L421.2,186.1 L422.4,182.9 L423.5,179.9 L424.7,176.0 L425.9,173.0 L427.1,171.1 L429.4,167.4 L431.8,165.3 L434.1,166.9 L436.5,168.4 L438.8,171.9 L440.0,173.1 L442.8,176.2 L445.6,178.3 L448.5,175.5 L449.9,173.4 L451.3,171.7 L454.1,168.0 L458.4,167.4 L461.9,165.2 L462.8,162.9 L463.8,160.9 L464.7,158.6 L465.6,156.0 L466.6,153.1 L467.5,150.7 L470.4,149.1 L471.8,151.1 L473.2,154.3 L474.1,156.4 L475.1,158.3 L476.0,160.2 L478.8,162.3 L480.2,160.5 L481.6,158.5 L484.5,157.7 L485.9,160.6 L487.3,163.7 L489.4,163.9 L490.4,160.5 L491.3,158.8 L492.2,157.2 L493.2,154.3 L494.1,151.0 L495.1,149.5 L497.9,148.0 L500.7,147.2 L503.5,147.4 L506.4,146.3 L509.2,145.0 L512.0,149.2 L514.8,151.7 L517.7,152.4 L520.5,154.6 L523.3,158.3 L526.1,160.4 L528.9,160.5 L531.8,158.6 L534.6,157.3 L535.0,158.6 L537.1,160.9 L539.2,159.4 L540.6,157.5 L542.1,154.7 L543.5,152.9 L544.9,151.2 L546.3,148.9 L547.7,146.1 L549.1,144.0 L550.5,142.8 L551.6,139.6 L552.6,135.2 L553.7,131.8 L554.8,128.9 L557.6,126.0 L560.4,123.8 L563.2,121.5 L566.1,120.3 L568.9,117.7 L571.0,116.0 L573.1,120.2 L575.2,124.9 L577.4,125.7 L579.5,127.0 L581.6,128.5 L583.7,129.7 L585.8,132.2 L587.9,134.9 L590.1,136.4 L592.2,139.6 L594.3,136.8 L596.4,133.2 L598.5,131.5 L600.7,132.9 L602.8,131.5 L604.9,129.2 L607.0,126.2 L609.8,123.1 L612.7,120.9 L615.5,118.2 L618.3,114.6 L621.1,111.5 L623.2,109.6 L625.4,107.7 L627.5,109.3 L629.6,114.0 L631.7,118.5 L633.8,121.6 L635.9,124.5 L638.1,126.1 L640.9,126.7 L643.7,127.6 L645.8,130.5 L647.9,127.3 L648.8,124.3 L649.6,120.7 L650.5,117.5 L651.4,114.5 L651.9,111.7 L652.4,109.3 L652.9,106.7 L653.5,104.1 L654.2,100.5 L654.9,97.3 L655.6,95.7 L657.7,92.7 L659.8,92.4 L661.9,89.1 L664.1,85.9 L666.2,84.5 L668.3,83.8 L670.4,86.9 L672.5,91.6 L673.6,93.1 L674.6,95.8 L676.8,98.4 L678.9,98.4 L681.0,97.6 L683.1,96.7 L685.2,95.7 L687.4,95.0 L689.5,95.9 L691.6,97.4 L693.7,100.3 L695.8,104.5 L697.9,106.6 L700.1,106.4 L702.2,105.1 L704.3,103.9 L706.4,106.0 L708.5,108.6 L710.7,109.5 L712.8,109.7 L714.9,109.6 L717.0,111.4 L719.1,111.6 L721.2,112.0 L723.4,112.9 L725.5,112.2 L727.6,110.8 L729.7,108.7 L731.8,108.2 L733.9,107.5 L736.1,106.7 L738.2,107.3 L740.3,107.5 L742.4,108.5 L744.5,108.4 L746.7,109.7 L748.8,111.4 L750.9,112.7 L753.0,113.7 L754.8,112.4" fill="none" stroke="#f6f01a" stroke-width="2.5" stroke-linejoin="round" stroke-linecap="round"/>
<rect x="147.3" y="43.0" width="608.1" height="394.0" fill="none" stroke="#2a1e22" stroke-width="2.6" rx="1"/>
<line x1="147.3" y1="92.2" x2="155.60000000000002" y2="92.2" stroke="#2a1e22" stroke-width="2"/>
<line x1="147.3" y1="141.5" x2="161.60000000000002" y2="141.5" stroke="#2a1e22" stroke-width="2"/>
<line x1="147.3" y1="190.8" x2="155.60000000000002" y2="190.8" stroke="#2a1e22" stroke-width="2"/>
<line x1="147.3" y1="240.0" x2="161.60000000000002" y2="240.0" stroke="#2a1e22" stroke-width="2"/>
<line x1="147.3" y1="289.2" x2="155.60000000000002" y2="289.2" stroke="#2a1e22" stroke-width="2"/>
<line x1="147.3" y1="338.5" x2="161.60000000000002" y2="338.5" stroke="#2a1e22" stroke-width="2"/>
<line x1="147.3" y1="387.8" x2="155.60000000000002" y2="387.8" stroke="#2a1e22" stroke-width="2"/>
<line x1="755.4" y1="82.4" x2="747.4" y2="82.4" stroke="#2a1e22" stroke-width="2"/>
<line x1="755.4" y1="121.8" x2="740.4" y2="121.8" stroke="#2a1e22" stroke-width="2"/>
<line x1="755.4" y1="161.2" x2="747.4" y2="161.2" stroke="#2a1e22" stroke-width="2"/>
<line x1="755.4" y1="200.6" x2="740.4" y2="200.6" stroke="#2a1e22" stroke-width="2"/>
<line x1="755.4" y1="240.0" x2="747.4" y2="240.0" stroke="#2a1e22" stroke-width="2"/>
<line x1="755.4" y1="279.4" x2="740.4" y2="279.4" stroke="#2a1e22" stroke-width="2"/>
<line x1="755.4" y1="318.8" x2="747.4" y2="318.8" stroke="#2a1e22" stroke-width="2"/>
<line x1="755.4" y1="358.2" x2="740.4" y2="358.2" stroke="#2a1e22" stroke-width="2"/>
<line x1="755.4" y1="397.6" x2="747.4" y2="397.6" stroke="#2a1e22" stroke-width="2"/>
<line x1="208.1" y1="437.0" x2="208.1" y2="432.0" stroke="#2a1e22" stroke-width="2"/>
<line x1="268.9" y1="437.0" x2="268.9" y2="428.0" stroke="#2a1e22" stroke-width="2"/>
<line x1="329.7" y1="437.0" x2="329.7" y2="432.0" stroke="#2a1e22" stroke-width="2"/>
<line x1="390.5" y1="437.0" x2="390.5" y2="428.0" stroke="#2a1e22" stroke-width="2"/>
<line x1="451.3" y1="437.0" x2="451.3" y2="432.0" stroke="#2a1e22" stroke-width="2"/>
<line x1="512.2" y1="437.0" x2="512.2" y2="428.0" stroke="#2a1e22" stroke-width="2"/>
<line x1="573.0" y1="437.0" x2="573.0" y2="432.0" stroke="#2a1e22" stroke-width="2"/>
<line x1="633.8" y1="437.0" x2="633.8" y2="428.0" stroke="#2a1e22" stroke-width="2"/>
<line x1="694.6" y1="437.0" x2="694.6" y2="432.0" stroke="#2a1e22" stroke-width="2"/>
<line x1="208.1" y1="43.0" x2="208.1" y2="48.0" stroke="#2a1e22" stroke-width="2"/>
<line x1="268.9" y1="43.0" x2="268.9" y2="51.5" stroke="#2a1e22" stroke-width="2"/>
<line x1="329.7" y1="43.0" x2="329.7" y2="48.0" stroke="#2a1e22" stroke-width="2"/>
<line x1="390.5" y1="43.0" x2="390.5" y2="51.5" stroke="#2a1e22" stroke-width="2"/>
<line x1="451.3" y1="43.0" x2="451.3" y2="48.0" stroke="#2a1e22" stroke-width="2"/>
<line x1="512.2" y1="43.0" x2="512.2" y2="51.5" stroke="#2a1e22" stroke-width="2"/>
<line x1="573.0" y1="43.0" x2="573.0" y2="48.0" stroke="#2a1e22" stroke-width="2"/>
<line x1="633.8" y1="43.0" x2="633.8" y2="51.5" stroke="#2a1e22" stroke-width="2"/>
<line x1="694.6" y1="43.0" x2="694.6" y2="48.0" stroke="#2a1e22" stroke-width="2"/>
<text transform="translate(131.51,149.0) scale(1.42,1)" text-anchor="middle" font-family="Liberation Serif" font-size="22.5" fill="#221a1a" stroke="#221a1a" stroke-width="0.2">0</text>
<rect x="113.81" y="240.20" width="8.8" height="2.5" fill="#221a1a"/>
<path d="M130.16,234.10 L132.86,232.90 L132.86,246.30 L134.41,246.80 L134.41,247.50 L128.61,247.50 L128.61,246.80 L130.16,246.30 L130.16,236.10 L127.91,237.10 L127.91,236.20 Z" fill="#221a1a"/>
<rect x="113.81" y="338.70" width="8.8" height="2.5" fill="#221a1a"/>
<text transform="translate(131.51,346.0) scale(1.42,1)" text-anchor="middle" font-family="Liberation Serif" font-size="22.5" fill="#221a1a" stroke="#221a1a" stroke-width="0.2">2</text>
<rect x="113.81" y="437.20" width="8.8" height="2.5" fill="#221a1a"/>
<text transform="translate(131.51,444.5) scale(1.42,1)" text-anchor="middle" font-family="Liberation Serif" font-size="22.5" fill="#221a1a" stroke="#221a1a" stroke-width="0.2">3</text>
<path d="M129.25,36.70 L131.95,35.50 L131.95,48.30 L133.50,48.80 L133.50,49.50 L127.70,49.50 L127.70,48.80 L129.25,48.30 L129.25,38.70 L127.00,39.70 L127.00,38.80 Z" fill="#221a1a"/>
<text transform="translate(131.33,455.5) scale(1.42,1)" text-anchor="middle" font-family="Liberation Serif" font-size="22.5" fill="#221a1a" stroke="#221a1a" stroke-width="0.2">2</text>
<text transform="translate(147.30,455.5) scale(1.42,1)" text-anchor="middle" font-family="Liberation Serif" font-size="22.5" fill="#221a1a" stroke="#221a1a" stroke-width="0.2">0</text>
<text transform="translate(163.28,455.5) scale(1.42,1)" text-anchor="middle" font-family="Liberation Serif" font-size="22.5" fill="#221a1a" stroke="#221a1a" stroke-width="0.2">0</text>
<text transform="translate(252.94,455.5) scale(1.42,1)" text-anchor="middle" font-family="Liberation Serif" font-size="22.5" fill="#221a1a" stroke="#221a1a" stroke-width="0.2">2</text>
<path d="M267.57,442.10 L270.27,440.90 L270.27,454.30 L271.82,454.80 L271.82,455.50 L266.02,455.50 L266.02,454.80 L267.57,454.30 L267.57,444.10 L265.32,445.10 L265.32,444.20 Z" fill="#221a1a"/>
<text transform="translate(284.89,455.5) scale(1.42,1)" text-anchor="middle" font-family="Liberation Serif" font-size="22.5" fill="#221a1a" stroke="#221a1a" stroke-width="0.2">0</text>
<text transform="translate(374.56,455.5) scale(1.42,1)" text-anchor="middle" font-family="Liberation Serif" font-size="22.5" fill="#221a1a" stroke="#221a1a" stroke-width="0.2">2</text>
<text transform="translate(390.54,455.5) scale(1.42,1)" text-anchor="middle" font-family="Liberation Serif" font-size="22.5" fill="#221a1a" stroke="#221a1a" stroke-width="0.2">2</text>
<text transform="translate(406.52,455.5) scale(1.42,1)" text-anchor="middle" font-family="Liberation Serif" font-size="22.5" fill="#221a1a" stroke="#221a1a" stroke-width="0.2">0</text>
<text transform="translate(496.18,455.5) scale(1.42,1)" text-anchor="middle" font-family="Liberation Serif" font-size="22.5" fill="#221a1a" stroke="#221a1a" stroke-width="0.2">2</text>
<text transform="translate(512.16,455.5) scale(1.42,1)" text-anchor="middle" font-family="Liberation Serif" font-size="22.5" fill="#221a1a" stroke="#221a1a" stroke-width="0.2">3</text>
<text transform="translate(528.13,455.5) scale(1.42,1)" text-anchor="middle" font-family="Liberation Serif" font-size="22.5" fill="#221a1a" stroke="#221a1a" stroke-width="0.2">0</text>
<text transform="translate(617.80,455.5) scale(1.42,1)" text-anchor="middle" font-family="Liberation Serif" font-size="22.5" fill="#221a1a" stroke="#221a1a" stroke-width="0.2">2</text>
<text transform="translate(633.78,455.5) scale(1.42,1)" text-anchor="middle" font-family="Liberation Serif" font-size="22.5" fill="#221a1a" stroke="#221a1a" stroke-width="0.2">4</text>
<text transform="translate(649.75,455.5) scale(1.42,1)" text-anchor="middle" font-family="Liberation Serif" font-size="22.5" fill="#221a1a" stroke="#221a1a" stroke-width="0.2">0</text>
<text transform="translate(739.42,455.5) scale(1.42,1)" text-anchor="middle" font-family="Liberation Serif" font-size="22.5" fill="#221a1a" stroke="#221a1a" stroke-width="0.2">2</text>
<text transform="translate(755.40,455.5) scale(1.42,1)" text-anchor="middle" font-family="Liberation Serif" font-size="22.5" fill="#221a1a" stroke="#221a1a" stroke-width="0.2">5</text>
<text transform="translate(771.37,455.5) scale(1.42,1)" text-anchor="middle" font-family="Liberation Serif" font-size="22.5" fill="#221a1a" stroke="#221a1a" stroke-width="0.2">0</text>
<text x="157.5" y="19.5" font-family="Liberation Sans" font-size="23" fill="#111">A</text>
<text x="438" y="510.5" text-anchor="middle" font-family="Liberation Sans" font-size="40" fill="#1a1a1a">Wavelength (nm)</text>
<text transform="translate(64,226.4) rotate(-90)" text-anchor="middle" font-family="Liberation Sans" font-size="34.5" fill="#1a1a1a"><tspan font-style="italic">θ</tspan> (10<tspan font-size="22" dy="-11">3</tspan><tspan dy="11"> deg cm</tspan><tspan font-size="22" dy="-11">2</tspan><tspan dy="11"> dmol</tspan><tspan font-size="22" dy="-11">−1</tspan><tspan dy="11">)</tspan></text>
<rect x="111.4" y="681.4" width="716.4" height="368.0" fill="none" stroke="#222222" stroke-width="2.2"/>
<line x1="103.2" y1="681.4" x2="111.4" y2="681.4" stroke="#222222" stroke-width="2.2"/>
<line x1="103.2" y1="804.1" x2="111.4" y2="804.1" stroke="#222222" stroke-width="2.2"/>
<line x1="103.2" y1="926.7" x2="111.4" y2="926.7" stroke="#222222" stroke-width="2.2"/>
<line x1="103.2" y1="1049.4" x2="111.4" y2="1049.4" stroke="#222222" stroke-width="2.2"/>
<path d="M111.5,757.5 L137.4,850.0 L162.8,750.5 L266.0,762.5 L419.1,808.4 L725.0,736.0" fill="none" stroke="#1a1a1a" stroke-width="2.5"/>
<path d="M111.5,996.5 L137.4,960.7 L163.2,843.4 L266.0,811.9 L419.1,781.7 L725.0,790.2" fill="none" stroke="#1a1a1a" stroke-width="2.5"/>
<circle cx="111.5" cy="757.5" r="7.05" fill="#000" stroke="#111" stroke-width="2.35"/>
<circle cx="137.4" cy="850.0" r="7.05" fill="#000" stroke="#111" stroke-width="2.35"/>
<circle cx="162.8" cy="750.5" r="7.05" fill="#000" stroke="#111" stroke-width="2.35"/>
<circle cx="266.0" cy="762.5" r="7.05" fill="#000" stroke="#111" stroke-width="2.35"/>
<circle cx="419.1" cy="808.4" r="7.05" fill="#000" stroke="#111" stroke-width="2.35"/>
<circle cx="725.0" cy="736.0" r="7.05" fill="#000" stroke="#111" stroke-width="2.35"/>
<circle cx="111.5" cy="996.5" r="7.05" fill="#fff" stroke="#111" stroke-width="2.35"/>
<circle cx="137.4" cy="960.7" r="7.05" fill="#fff" stroke="#111" stroke-width="2.35"/>
<circle cx="163.2" cy="843.4" r="7.05" fill="#fff" stroke="#111" stroke-width="2.35"/>
<circle cx="266.0" cy="811.9" r="7.05" fill="#fff" stroke="#111" stroke-width="2.35"/>
<circle cx="419.1" cy="781.7" r="7.05" fill="#fff" stroke="#111" stroke-width="2.35"/>
<circle cx="725.0" cy="790.2" r="7.05" fill="#fff" stroke="#111" stroke-width="2.35"/>
<text x="90" y="690.4" text-anchor="end" font-family="Liberation Sans" font-size="26" fill="#222">0</text>
<text x="90" y="813.1" text-anchor="end" font-family="Liberation Sans" font-size="26" fill="#222">-1</text>
<text x="90" y="935.7" text-anchor="end" font-family="Liberation Sans" font-size="26" fill="#222">-2</text>
<text x="90" y="1058.4" text-anchor="end" font-family="Liberation Sans" font-size="26" fill="#222">-3</text>
<text x="111.4" y="1088.5" text-anchor="middle" font-family="Liberation Sans" font-size="26" fill="#222">0</text>
<text x="213.7" y="1088.5" text-anchor="middle" font-family="Liberation Sans" font-size="26" fill="#222">20</text>
<text x="316.1" y="1088.5" text-anchor="middle" font-family="Liberation Sans" font-size="26" fill="#222">40</text>
<text x="418.4" y="1088.5" text-anchor="middle" font-family="Liberation Sans" font-size="26" fill="#222">60</text>
<text x="520.8" y="1088.5" text-anchor="middle" font-family="Liberation Sans" font-size="26" fill="#222">80</text>
<text x="623.1" y="1088.5" text-anchor="middle" font-family="Liberation Sans" font-size="26" fill="#222">100</text>
<text x="725.5" y="1088.5" text-anchor="middle" font-family="Liberation Sans" font-size="26" fill="#222">120</text>
<text x="827.8" y="1088.5" text-anchor="middle" font-family="Liberation Sans" font-size="26" fill="#222">140</text>
<text x="102.5" y="644" font-family="Liberation Sans" font-size="27" fill="#1a1a1a">B</text>
<text x="419" y="1127.3" text-anchor="middle" font-family="Liberation Sans" font-size="25.6" fill="#1a1a1a">Time (min)</text>
<text transform="translate(22.5,882) rotate(-90)" text-anchor="middle" font-family="Liberation Sans" font-size="25.6" fill="#1a1a1a"><tspan font-style="italic">θ</tspan> (10<tspan font-size="16" dy="-10">3</tspan><tspan dy="10"> deg cm</tspan><tspan font-size="16" dy="-10">2</tspan><tspan dy="10"> dmol</tspan><tspan font-size="16" dy="-10">-1</tspan><tspan dy="10">)</tspan></text>
</svg></body></html>
